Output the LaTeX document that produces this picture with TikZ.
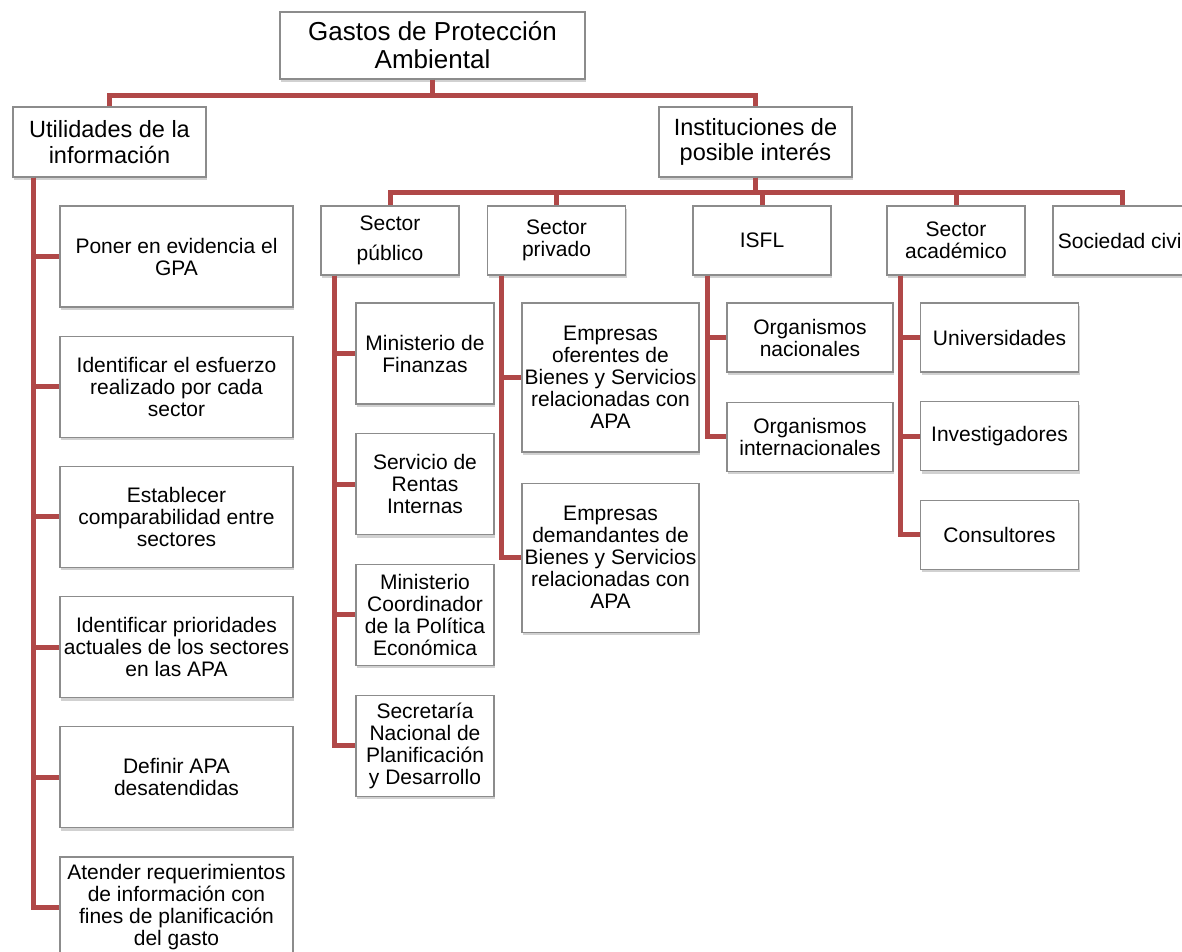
\documentclass[tikz,border=0pt]{standalone}
\usepackage{fontspec}
\setmainfont{Liberation Sans}
\usetikzlibrary{positioning,shadows}
\definecolor{lien}{RGB}{176,72,72}
\definecolor{bord}{RGB}{140,140,140}

\begin{document}
\begin{tikzpicture}[x=1pt, y=-1pt, node distance=28pt,
	box/.style={draw=bord, line width=1.2pt, fill=white, align=center, inner sep=0pt,
		drop shadow={shadow xshift=1pt, shadow yshift=-3pt, opacity=.3, fill=black!60},
		font=\fontsize{21}{22}\selectfont},
	tete/.style={box, minimum width=193pt, minimum height=70pt, font=\fontsize{23.5}{25.5}\selectfont},
	sect/.style={box, minimum width=138pt, minimum height=69pt},
	link/.style={draw=lien, line width=5pt}]
			\useasboundingbox (0,0) rectangle (1182,951);
			% niveaux du haut
			\node[box, minimum width=305pt, minimum height=67pt, font=\fontsize{26}{28}\selectfont] (GPA) at (432.5,45.5) {Gastos de Protección\\Ambiental};
			\node[tete] (Util) at (109.5,142) {Utilidades de la\\información};
			\node[tete] (Inst) at (755.5,142) {Instituciones de\\posible interés};
			\node[sect] (Pub) at (390,240.5) {Sector\\[8pt]público};
			\node[sect] (Priv) at (556.5,240.5) {Sector\\privado};
			\node[sect] (ISFL) at (762,240.5) {ISFL};
			\node[sect] (Acad) at (956,240.5) {Sector\\académico};
			\node[sect] (Soc) at (1122,240.5) {Sociedad civil};
			% utilidades
			\begin{scope}[every node/.append style={box, minimum width=233pt, minimum height=101pt}]
			\node (U1) at (176.5,256.5) {Poner en evidencia el\\GPA};
			\node[below=of U1] (U2) {Identificar el esfuerzo\\realizado por cada\\sector};
			\node[below=of U2] (U3) {Establecer\\comparabilidad entre\\sectores};
			\node[below=of U3] (U4) {Identificar prioridades\\actuales de los sectores\\en las APA};
			\node[below=of U4] (U5) {Definir APA\\desatendidas};
			\node[below=of U5] (U6) {Atender requerimientos\\de información con\\fines de planificación\\del gasto};
			\end{scope}
			% sector publico
			\begin{scope}[node distance=28.5pt, every node/.append style={box, minimum width=138pt, minimum height=101pt}]
			\node (P1) at (425,353.5) {Ministerio de\\Finanzas};
			\node[below=of P1] (P2) {Servicio de\\Rentas\\Internas};
			\node[below=of P2] (P3) {Ministerio\\Coordinador\\de la Política\\Económica};
			\node[below=of P3] (P4) {Secretaría\\Nacional de\\Planificación\\y Desarrollo};
			\end{scope}
			% sector privado
			\begin{scope}[node distance=30pt, every node/.append style={box, minimum width=177pt, minimum height=149pt}]
			\node (R1) at (610.5,377.5) {Empresas\\oferentes de\\Bienes y Servicios\\relacionadas con\\APA};
			\node[below=of R1] (R2) {Empresas\\demandantes de\\Bienes y Servicios\\relacionadas con\\APA};
			\end{scope}
			% ISFL
			\begin{scope}[node distance=29pt, every node/.append style={box, minimum width=166pt, minimum height=69pt}]
			\node (I1) at (810,337.5) {Organismos\\nacionales};
			\node[below=of I1] (I2) {Organismos\\internacionales};
			\end{scope}
			% academico
			\begin{scope}[node distance=28.5pt, every node/.append style={box, minimum width=158pt, minimum height=69pt}]
			\node (A1) at (999.5,337.5) {Universidades};
			\node[below=of A1] (A2) {Investigadores};
			\node[below=of A2] (A3) {Consultores};
			\end{scope}
			% liens
			\draw[link] (GPA.south) -- ++(0,16) -| (Util.north);
			\draw[link] (GPA.south) -- ++(0,16) -| (Inst.north);
			\foreach \s in {Pub,Priv,ISFL,Acad,Soc}
				\draw[link] (Inst.south) -- ++(0,15) -| (\s.north);
			\foreach \i in {1,...,6}
				\draw[link] ([xshift=21pt]Util.south west) |- (U\i.west);
			\foreach \i in {1,...,4}
				\draw[link] ([xshift=14pt]Pub.south west) |- (P\i.west);
			\foreach \i in {1,2}
				\draw[link] ([xshift=15pt]Priv.south west) |- (R\i.west);
			\foreach \i in {1,2}
				\draw[link] ([xshift=15pt]ISFL.south west) |- (I\i.west);
			\foreach \i in {1,2,3}
				\draw[link] ([xshift=14pt]Acad.south west) |- (A\i.west);
		\end{tikzpicture}
\end{document}
